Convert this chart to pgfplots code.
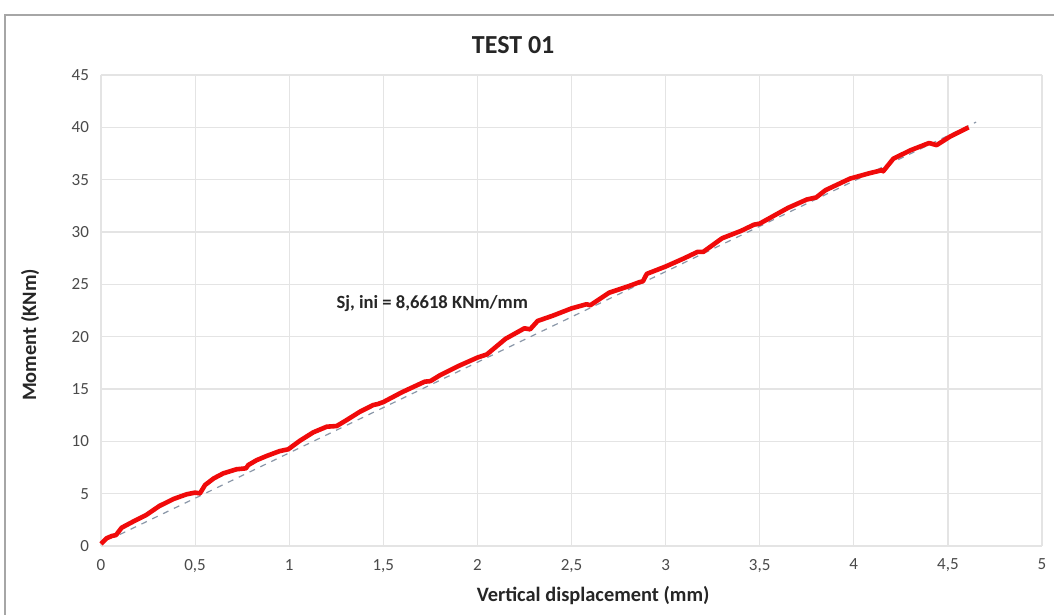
\documentclass[border=0pt]{standalone}
\usepackage{pgfplots}
\pgfplotsset{compat=1.18}
\usepackage{fontspec}
\setmainfont{Carlito}
\definecolor{tickgray}{HTML}{4A4A4A}
\definecolor{gridgray}{HTML}{E4E4E4}
\definecolor{trend}{HTML}{8A97A8}
\definecolor{curve}{HTML}{F00A0A}
\begin{document}
\begin{tikzpicture}[x=1pt,y=1pt]
\useasboundingbox (0,0) rectangle (527,307.5);
\fill[white] (0,0) rectangle (527,307.5);
\draw[gray!70, line width=0.8pt] (2.5,0) -- (2.5,300) -- (527,300);
\begin{axis}[
  at={(50.5pt,34.5pt)}, anchor=south west,
  scale only axis, width=470.5pt, height=235.5pt,
  xmin=0, xmax=5, ymin=0, ymax=45,
  xtick={0,0.5,...,5}, ytick={0,5,...,45},
  /pgf/number format/use comma,
  /pgf/number format/assume math mode=true,
  grid=major, major grid style={gridgray, line width=0.6pt},
  axis line style={draw=none},
  axis x line*=bottom, axis y line*=left,
  x axis line style={draw=gridgray, line width=0.8pt},
  tick style={draw=none},
  ticklabel style={font=\fontsize{8.5}{10}\selectfont, text=tickgray},
  xticklabel style={yshift=-3pt},
  yticklabel style={xshift=-2.5pt},
  title={TEST 01},
  every axis title/.style={at={(rel axis cs:0.438,1)}, anchor=center, yshift=15pt, font=\bfseries\fontsize{13}{15}\selectfont, text=black!85},
  xlabel={Vertical displacement (mm)},
  ylabel={Moment (KNm)},
  every axis x label/.style={at={(rel axis cs:0.523,0)}, anchor=center, yshift=-25pt, font=\bfseries\fontsize{10.2}{12}\selectfont, text=black!85},
  every axis y label/.style={at={(rel axis cs:0,0.448)}, anchor=center, xshift=-35.5pt, rotate=90, font=\bfseries\fontsize{10.2}{12}\selectfont, text=black!85},
  clip=false,
]
\addplot[trend, dashed, line width=0.6pt] coordinates {(0.1,1.1) (4.65,40.5)};
\addplot[curve, line width=2.3pt, line join=round] coordinates {
(0,0.2) (0.03,0.74) (0.057,0.95) (0.08,1.05) (0.11,1.75) (0.136,2.0) (0.18,2.42)
(0.24,2.96) (0.31,3.82) (0.385,4.49) (0.455,4.94) (0.50,5.1) (0.526,5.03)
(0.553,5.83) (0.60,6.47) (0.65,6.94) (0.72,7.33) (0.77,7.42) (0.783,7.74)
(0.827,8.2) (0.88,8.6) (0.95,9.07) (0.995,9.24) (1.057,10.06) (1.128,10.86)
(1.2,11.4) (1.252,11.46) (1.305,12.03) (1.376,12.83) (1.447,13.47) (1.47,13.56)
(1.5,13.75) (1.6,14.7) (1.72,15.7) (1.75,15.75) (1.8,16.3) (1.9,17.2) (2.0,18.0)
(2.05,18.3) (2.15,19.8) (2.25,20.8) (2.28,20.7) (2.32,21.5) (2.4,22.0) (2.5,22.7)
(2.58,23.1) (2.6,23.0) (2.7,24.2) (2.8,24.8) (2.86,25.2) (2.88,25.3) (2.9,26.0)
(3.0,26.7) (3.1,27.5) (3.17,28.1) (3.2,28.1) (3.3,29.4) (3.4,30.1) (3.47,30.7)
(3.5,30.8) (3.6,31.8) (3.65,32.3) (3.75,33.1) (3.8,33.3) (3.85,34.0) (3.98,35.1)
(4.08,35.6) (4.148,35.9) (4.156,35.8) (4.21,37.0) (4.30,37.8) (4.40,38.5)
(4.44,38.3) (4.51,39.1) (4.61,40.0)
};
\node[font=\bfseries\fontsize{9.3}{11}\selectfont, text=black!85] at (axis cs:1.76,23.2) {Sj, ini = 8,6618 KNm/mm};
\end{axis}
\end{tikzpicture}
\end{document}
